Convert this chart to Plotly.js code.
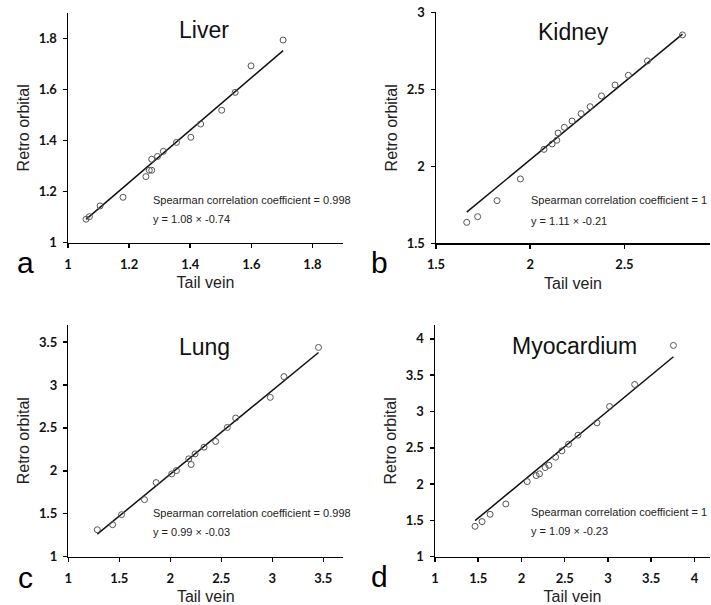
<!DOCTYPE html>
<html>
<head>
<meta charset="utf-8">
<script src="https://cdn.plot.ly/plotly-3.0.1.min.js"></script>
<style>html,body{margin:0;padding:0;background:#fff;}#chart{width:711px;height:605px;}</style>
</head>
<body>
<div id="chart"></div>
<script>
// ---- data ----
const panelNames = ["Liver", "Kidney", "Lung", "Myocardium"];
const panelLetters = ["a", "b", "c", "d"];
const spearman = ["0.998", "1", "0.998", "1"];
const equations = ["y = 1.08 × -0.74", "y = 1.11 × -0.21", "y = 0.99 × -0.03", "y = 1.09 × -0.23"];

const liverTail = [1.059, 1.070, 1.105, 1.180, 1.255, 1.266, 1.274, 1.274, 1.293, 1.312, 1.355, 1.402, 1.434, 1.503, 1.547, 1.599, 1.704];
const liverRetro = [1.092, 1.102, 1.144, 1.178, 1.259, 1.284, 1.284, 1.327, 1.338, 1.358, 1.393, 1.413, 1.465, 1.519, 1.589, 1.693, 1.794];

const kidneyTail = [1.663, 1.721, 1.824, 1.948, 2.073, 2.116, 2.141, 2.148, 2.181, 2.222, 2.270, 2.318, 2.378, 2.450, 2.521, 2.622, 2.808];
const kidneyRetro = [1.636, 1.673, 1.777, 1.918, 2.110, 2.145, 2.169, 2.216, 2.253, 2.294, 2.342, 2.387, 2.457, 2.528, 2.591, 2.684, 2.853];

const lungTail = [1.284, 1.434, 1.522, 1.747, 1.861, 2.014, 2.060, 2.181, 2.204, 2.243, 2.331, 2.445, 2.559, 2.641, 2.980, 3.114, 3.453];
const lungRetro = [1.312, 1.371, 1.488, 1.663, 1.862, 1.963, 2.002, 2.139, 2.073, 2.197, 2.275, 2.342, 2.505, 2.615, 2.856, 3.098, 3.438];

const myoTail = [1.463, 1.544, 1.637, 1.819, 2.066, 2.170, 2.208, 2.274, 2.317, 2.394, 2.467, 2.544, 2.653, 2.873, 3.019, 3.309, 3.757];
const myoRetro = [1.418, 1.483, 1.584, 1.726, 2.034, 2.117, 2.140, 2.227, 2.259, 2.370, 2.457, 2.549, 2.673, 2.843, 3.068, 3.371, 3.909];

// drawn trend lines (slope, intercept)
const fitSlope = [1.025, 1.0095, 0.9766, 0.984];
const fitIntercept = [0.006, 0.024, 0.007, 0.056];

// tick values / axis ranges
const xTicks = [[1, 1.2, 1.4, 1.6, 1.8], [1.5, 2, 2.5], [1, 1.5, 2, 2.5, 3, 3.5], [1, 1.5, 2, 2.5, 3, 3.5, 4]];
const yTicks = [[1, 1.2, 1.4, 1.6, 1.8], [1.5, 2, 2.5, 3], [1, 1.5, 2, 2.5, 3, 3.5], [1, 1.5, 2, 2.5, 3, 3.5, 4]];
const xRanges = [[1, 1.9], [1.5, 2.954], [1, 3.696], [1, 4.18]];
const yRanges = [[1, 1.9], [1.5, 3], [1, 3.70], [1, 4.19]];

// ---- layout geometry ----
const W = 711, H = 605;
const boxes = [ // [left, right, top, bottom] in px
  [68, 343, 13, 242.7],
  [436, 710, 12.3, 243.3],
  [68.3, 343.3, 325, 556.5],
  [435, 710, 325, 556.7]
];
const titlePos = [[204, 30], [573, 32], [204.5, 346.5], [574.5, 345.5]];
const notePos = [[150.7, 200.3, 219.3], [529.3, 200, 220.7], [150.7, 513.3, 531.7], [529.3, 512.3, 531]];
const letterPos = [[25, 262], [380, 262], [25, 577], [380, 576]];

const xs = [liverTail, kidneyTail, lungTail, myoTail];
const ys = [liverRetro, kidneyRetro, lungRetro, myoRetro];

const data = [];
const layout = {
  width: W, height: H,
  margin: {l: 0, r: 0, t: 0, b: 0},
  paper_bgcolor: "#fff", plot_bgcolor: "#fff",
  showlegend: false,
  font: {family: "Liberation Sans, Arial, sans-serif", color: "#000"},
  annotations: []
};

for (let i = 0; i < 4; i++) {
  const sfx = i === 0 ? "" : String(i + 1);
  const xa = "x" + sfx, ya = "y" + sfx;
  const xmin = Math.min(...xs[i]), xmax = Math.max(...xs[i]);
  data.push({
    x: [xmin, xmax],
    y: [fitSlope[i] * xmin + fitIntercept[i], fitSlope[i] * xmax + fitIntercept[i]],
    mode: "lines", type: "scatter", xaxis: xa, yaxis: ya,
    line: {color: "#111", width: 1.5}, hoverinfo: "skip"
  });
  data.push({
    x: xs[i], y: ys[i], mode: "markers", type: "scatter", xaxis: xa, yaxis: ya,
    marker: {symbol: "circle-open", size: 6, color: "#555", line: {width: 1, color: "#555"}}
  });
  const b = boxes[i];
  const axCommon = {
    showgrid: false, zeroline: false, showline: true, linecolor: "#000", linewidth: 1.5,
    ticks: "outside", ticklen: 4, tickwidth: 1.5, tickcolor: "#000",
    tickfont: {family: "Lato, Open Sans, sans-serif", size: 13, color: "#111", weight: 700},
    fixedrange: true
  };
  layout["xaxis" + sfx] = Object.assign({}, axCommon, {
    domain: [b[0] / W, b[1] / W], anchor: ya, range: xRanges[i],
    tickmode: "array", tickvals: xTicks[i], ticktext: xTicks[i].map(String),
    ticklabelstandoff: 5,
    title: {text: "Tail vein", font: {size: 16, color: "#222"}, standoff: 6}
  });
  layout["yaxis" + sfx] = Object.assign({}, axCommon, {
    domain: [1 - b[3] / H, 1 - b[2] / H], anchor: xa, range: yRanges[i],
    tickmode: "array", tickvals: yTicks[i], ticktext: yTicks[i].map(String),
    ticklabelstandoff: 3,
    title: {text: "Retro orbital", font: {size: 16, color: "#222"}, standoff: 5}
  });
  layout.annotations.push({
    xref: "paper", yref: "paper", x: titlePos[i][0] / W, y: 1 - titlePos[i][1] / H,
    xanchor: "center", yanchor: "middle", showarrow: false,
    text: panelNames[i], font: {size: 23, color: "#111"}
  });
  layout.annotations.push({
    xref: "paper", yref: "paper", x: notePos[i][0] / W, y: 1 - notePos[i][1] / H,
    xanchor: "left", yanchor: "middle", showarrow: false,
    text: "Spearman correlation coefficient = " + spearman[i], font: {size: 11, color: "#222"}
  });
  layout.annotations.push({
    xref: "paper", yref: "paper", x: notePos[i][0] / W, y: 1 - notePos[i][2] / H,
    xanchor: "left", yanchor: "middle", showarrow: false,
    text: equations[i], font: {size: 11, color: "#222"}
  });
  layout.annotations.push({
    xref: "paper", yref: "paper", x: letterPos[i][0] / W, y: 1 - letterPos[i][1] / H,
    xanchor: "center", yanchor: "middle", showarrow: false,
    text: panelLetters[i], font: {size: 30, color: "#000"}
  });
}

Plotly.newPlot("chart", data, layout, {displayModeBar: false, staticPlot: true});
</script>
</body>
</html>
